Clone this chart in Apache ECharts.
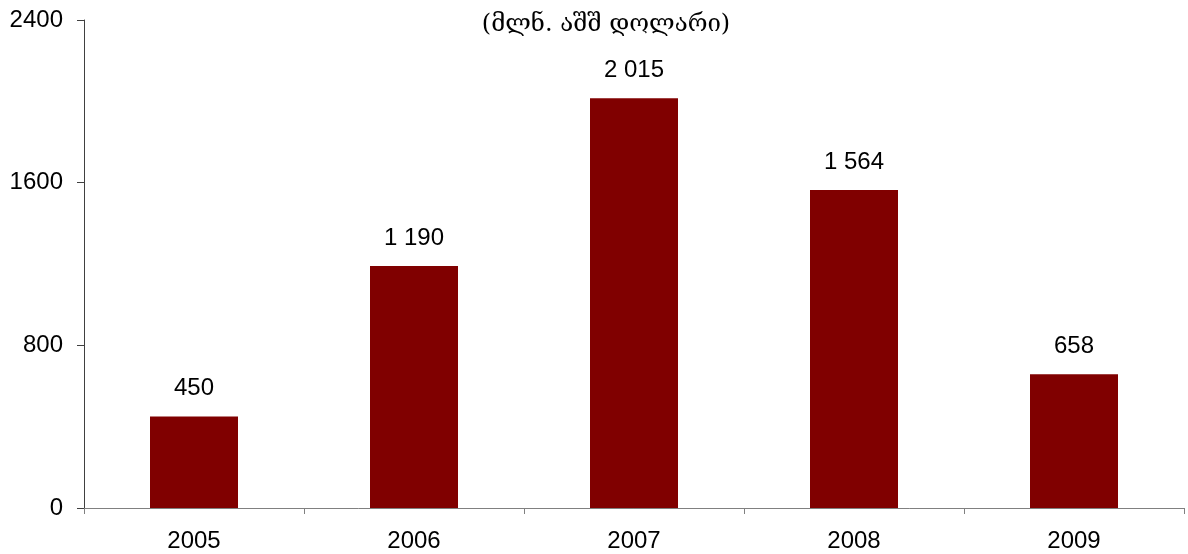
<!DOCTYPE html>
<html><head><meta charset="utf-8">
<script src="https://cdn.jsdelivr.net/npm/echarts@6/dist/echarts.min.js"></script>
<style>html,body{margin:0;padding:0;background:#fff}#c{width:1188px;height:554px}</style>
</head><body><div id="c"></div>
<script>
const categories = ['2005','2006','2007','2008','2009'];
const values = [450, 1190, 2015, 1564, 658];
const yTicks = [0, 800, 1600, 2400];
const titleText = '(მლნ. აშშ დოლარი)';

const chart = echarts.init(document.getElementById('c'));
chart.setOption({
  animation: false,
  title: {text: titleText, left: 601, top: 8, textAlign: 'center',
    textStyle: {fontFamily: 'DejaVu Serif', fontSize: 24, fontWeight: 'normal', color: '#000'}},
  grid: {left: 84, right: 4, top: 20, bottom: 46},
  xAxis: {type: 'category', data: categories, boundaryGap: true,
    axisLine: {lineStyle: {color: '#808080', width: 1}},
    axisTick: {show: true, interval: 0, length: 6, lineStyle: {color: '#808080'}},
    axisLabel: {fontFamily: 'Liberation Sans', fontSize: 24, color: '#000', margin: 21}},
  yAxis: {type: 'value', min: 0, max: 2400, interval: 800,
    axisLine: {show: true, lineStyle: {color: '#404040', width: 1}},
    axisTick: {show: true, length: 7, lineStyle: {color: '#404040'}},
    splitLine: {show: false},
    axisLabel: {fontFamily: 'Liberation Sans', fontSize: 24, color: '#000', margin: 21,
      formatter: v => yTicks.includes(v) ? String(v) : ''}},
  series: [{type: 'bar', data: values, barWidth: '40%',
    itemStyle: {color: '#800000'},
    label: {show: true, position: 'top', distance: 16, fontFamily: 'Liberation Sans', fontSize: 24, color: '#000',
      formatter: p => String(p.value).replace(/\B(?=(\d{3})+(?!\d))/g, ' ')}}]
});
</script></body></html>
